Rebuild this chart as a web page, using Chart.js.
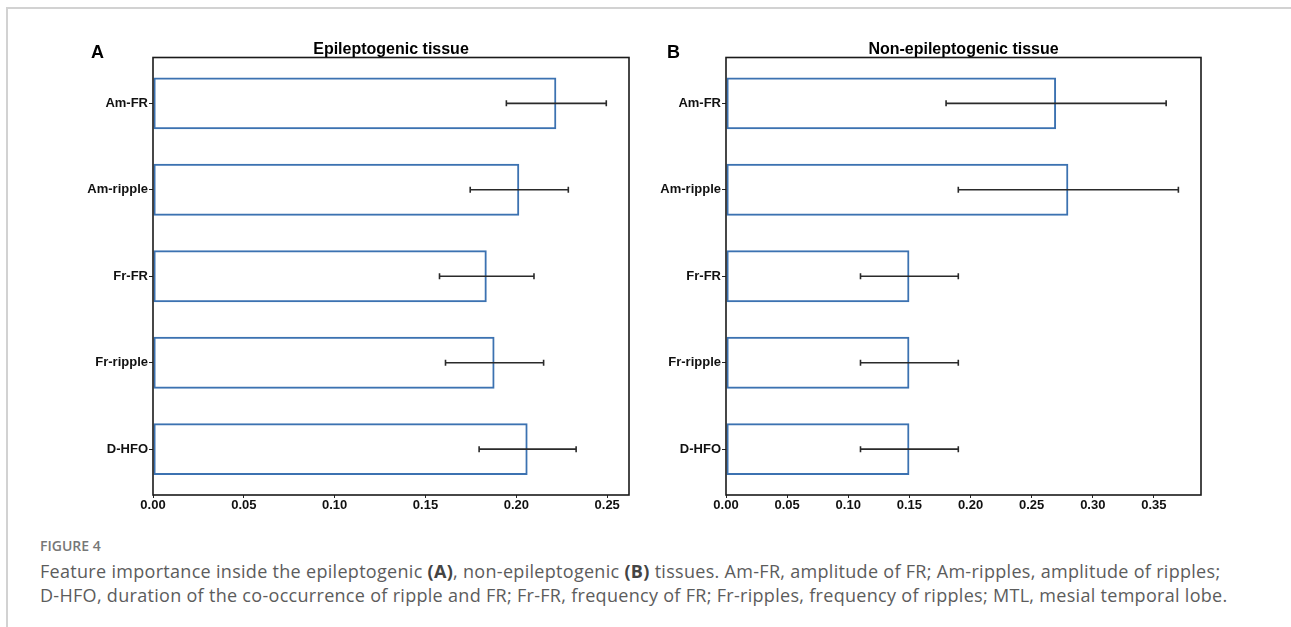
<!DOCTYPE html>
<html>
<head>
<meta charset="utf-8">
<script src="https://cdn.jsdelivr.net/npm/chart.js@4.4.1/dist/chart.umd.min.js"></script>
<style>
  body { margin: 0; background: #fff; width: 1291px; height: 627px; overflow: hidden; position: relative; }
  .rule { position: absolute; background: #d2d2d2; }
  #ruleTop { left: 6px; top: 7px; width: 1285px; height: 2px; }
  #ruleLeft { left: 6px; top: 7px; width: 2px; height: 620px; }
  canvas { position: absolute; top: 0; }
  #chartA { left: 0; }
  #chartB { left: 645px; }
  #figLabel { position: absolute; left: 40px; top: 536px; font: 600 14px/20px "Open Sans", sans-serif; color: #777; }
  #caption { position: absolute; left: 40px; top: 559px; font: 400 18px/24px "Open Sans", sans-serif; letter-spacing: 0.3px; color: #5c5c5c; white-space: nowrap; }
  #caption b { color: #444; font-weight: 700; }
</style>
</head>
<body>
<div class="rule" id="ruleTop"></div>
<div class="rule" id="ruleLeft"></div>
<canvas id="chartA" width="645" height="530"></canvas>
<canvas id="chartB" width="646" height="530"></canvas>
<div id="figLabel">FIGURE 4</div>
<div id="caption">Feature importance inside the epileptogenic <b>(A)</b>, non-epileptogenic <b>(B)</b> tissues. Am-FR, amplitude of FR; Am-ripples, amplitude of ripples;<br>D-HFO, duration of the co-occurrence of ripple and FR; Fr-FR, frequency of FR; Fr-ripples, frequency of ripples; MTL, mesial temporal lobe.</div>
<script>
// features, top to bottom
const categories = ['Am-FR', 'Am-ripple', 'Fr-FR', 'Fr-ripple', 'D-HFO']

// panel A - epileptogenic tissue
const epiValues = [0.222, 0.2016, 0.1837, 0.188, 0.2062]
const epiErrors = [0.0275, 0.027, 0.026, 0.027, 0.0267]
const epiTicks = [0, 0.05, 0.10, 0.15, 0.20, 0.25]

// panel B - non-epileptogenic tissue
const nonEpiValues = [0.27, 0.28, 0.15, 0.15, 0.15]
const nonEpiErrors = [0.09, 0.09, 0.04, 0.04, 0.04]
const nonEpiTicks = [0, 0.05, 0.10, 0.15, 0.20, 0.25, 0.30, 0.35]

const tickFont = { family: '"Liberation Sans", Arial, sans-serif', size: 13, weight: 'bold' }

// frame, title, panel letter and error bars
const extras = {
  id: 'extras',
  afterDatasetsDraw(chart, args, opts) {
    const ctx = chart.ctx
    const xs = chart.scales.x
    const meta = chart.getDatasetMeta(0)
    ctx.save()
    ctx.strokeStyle = '#2a2a2a'
    ctx.lineWidth = 1.6
    meta.data.forEach((bar, i) => {
      const lo = xs.getPixelForValue(opts.values[i] - opts.errors[i])
      const hi = xs.getPixelForValue(opts.values[i] + opts.errors[i])
      const y = bar.y
      ctx.beginPath()
      ctx.moveTo(lo, y); ctx.lineTo(hi, y)
      ctx.moveTo(lo, y - 3); ctx.lineTo(lo, y + 3)
      ctx.moveTo(hi, y - 3); ctx.lineTo(hi, y + 3)
      ctx.stroke()
    })
    ctx.restore()
  },
  afterDraw(chart, args, opts) {
    const ctx = chart.ctx
    const a = chart.chartArea
    ctx.save()
    ctx.strokeStyle = '#1a1a1a'
    ctx.lineWidth = 1.6
    ctx.strokeRect(a.left, a.top, a.right - a.left, a.bottom - a.top)
    ctx.fillStyle = '#000'
    ctx.textBaseline = 'alphabetic'
    ctx.textAlign = 'center'
    ctx.font = 'bold 16px "Liberation Sans", Arial, sans-serif'
    ctx.fillText(opts.title, (a.left + a.right) / 2, a.top - 4)
    ctx.textAlign = 'left'
    ctx.font = 'bold 18px "Liberation Sans", Arial, sans-serif'
    ctx.fillText(opts.letter, opts.letterX, 58)
    ctx.restore()
  }
}

function makePanel(id, values, errors, ticks, xMax, yWidth, padRight, title, letter, letterX) {
  return new Chart(document.getElementById(id), {
    type: 'bar',
    data: {
      datasets: [{
        data: values.map((v, i) => ({ x: v, y: i })),
        backgroundColor: 'rgba(0,0,0,0)',
        borderColor: '#3c72b1',
        borderWidth: 2,
        borderSkipped: false,
        barPercentage: 0.6,
        categoryPercentage: 1
      }]
    },
    options: {
      indexAxis: 'y',
      responsive: false,
      animation: false,
      layout: { padding: { top: 57.5, right: padRight, left: 0, bottom: 0 } },
      plugins: {
        legend: { display: false },
        tooltip: { enabled: false },
        extras: { values: values, errors: errors, title: title, letter: letter, letterX: letterX }
      },
      scales: {
        x: {
          type: 'linear',
          min: 0,
          max: xMax,
          offset: false,
          afterBuildTicks: s => { s.ticks = ticks.map(v => ({ value: v })) },
          afterFit: s => { s.height = 35 },
          ticks: { callback: v => v.toFixed(2), font: tickFont, color: '#111', padding: 0, maxRotation: 0 },
          grid: { display: true, offset: false, drawOnChartArea: false, drawTicks: true, tickLength: 3, color: '#222' },
          border: { display: false }
        },
        y: {
          type: 'linear',
          reverse: true,
          min: -0.53,
          max: 4.53,
          offset: false,
          afterBuildTicks: s => { s.ticks = categories.map((c, i) => ({ value: i })) },
          afterFit: s => { s.width = yWidth },
          ticks: { callback: v => categories[v], font: tickFont, color: '#111', padding: 1, autoSkip: false },
          grid: { display: true, offset: false, drawOnChartArea: false, drawTicks: true, tickLength: 4, color: '#222' },
          border: { display: false }
        }
      }
    },
    plugins: [extras]
  })
}

makePanel('chartA', epiValues, epiErrors, epiTicks, 0.262, 153, 16, 'Epileptogenic tissue', 'A', 91)
makePanel('chartB', nonEpiValues, nonEpiErrors, nonEpiTicks, 0.3885, 81, 90, 'Non-epileptogenic tissue', 'B', 22)
</script>
</body>
</html>
